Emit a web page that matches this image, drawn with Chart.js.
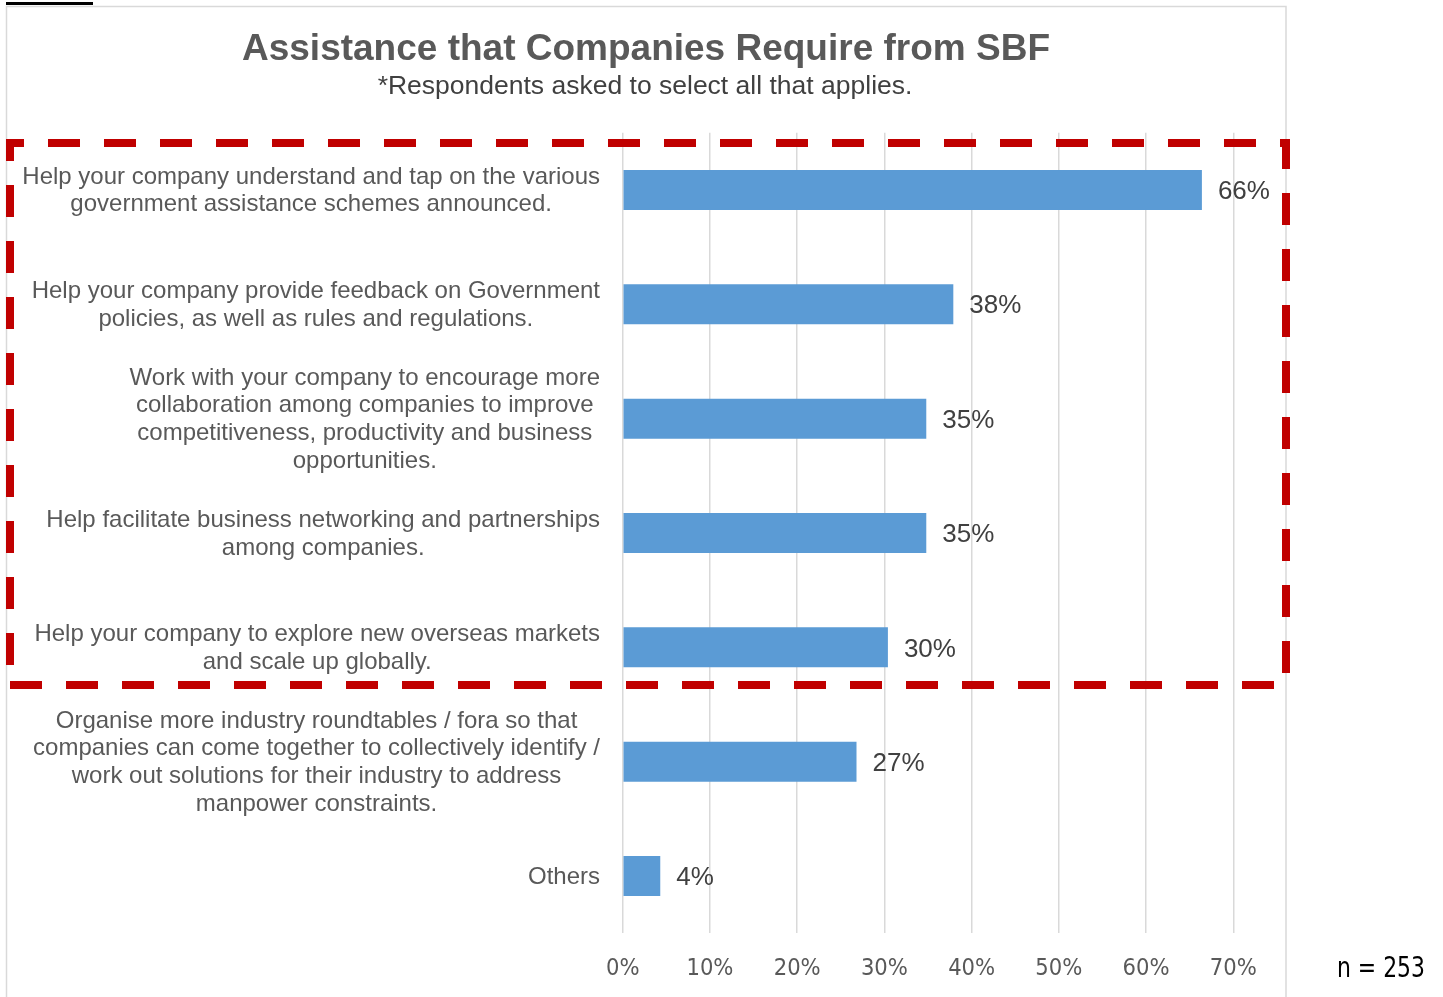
<!DOCTYPE html>
<html>
<head>
<meta charset="utf-8">
<title>Assistance that Companies Require from SBF</title>
<script src="https://cdn.jsdelivr.net/npm/chart.js@4.4.1/dist/chart.umd.min.js"></script>
<style>
  html, body { margin: 0; padding: 0; background: #ffffff; }
  #wrap { width: 1443px; height: 997px; }
</style>
</head>
<body>
<div id="wrap"><canvas id="sbfChart" width="1443" height="997"></canvas></div>
<script>
// Categories (multi-line, as in the original)
const categories = [
    ['Help your company understand and tap on the various', 'government assistance schemes announced.'],
    ['Help your company provide feedback on Government', 'policies, as well as rules and regulations.'],
    ['Work with your company to encourage more', 'collaboration among companies to improve', 'competitiveness, productivity and business', 'opportunities.'],
    ['Help facilitate business networking and partnerships', 'among companies.'],
    ['Help your company to explore new overseas markets', 'and scale up globally.'],
    ['Organise more industry roundtables / fora so that', 'companies can come together to collectively identify /', 'work out solutions for their industry to address', 'manpower constraints.'],
    ['Others']
];

// Share of respondents (%)
const values = [66.4, 37.9, 34.8, 34.8, 30.4, 26.8, 4.3];
const valueLabels = ['66%', '38%', '35%', '35%', '30%', '27%', '4%'];

// X axis ticks
const xTicks = [0, 10, 20, 30, 40, 50, 60, 70];

const titleText = 'Assistance that Companies Require from SBF';
const subtitleText = '*Respondents asked to select all that applies.';
const sampleText = 'n = 253';

const colors = {
    bar: '#5B9BD5',
    grid: '#D9D9D9',
    label: '#595959',
    dark: '#404040',
    box: '#C00000'
};
const mainFont = '"Liberation Sans", Arial, sans-serif';
const narrowFont = '"Liberation Sans Narrow", "DejaVu Sans Condensed", "Liberation Sans", sans-serif';

// Decorations: frame, title, category labels, value labels, dashed box
const decorPlugin = {
    id: 'decor',
    beforeDraw(chart) {
        const ctx = chart.ctx;
        ctx.save();
        ctx.fillStyle = '#ffffff';
        ctx.fillRect(0, 0, chart.width, chart.height);
        // chart frame
        ctx.strokeStyle = colors.grid;
        ctx.lineWidth = 1.5;
        ctx.strokeRect(6.5, 6.5, 1279.5, 1000);
        // underline of the cut-off caption above
        ctx.fillStyle = '#000000';
        ctx.fillRect(6, 2, 87, 3);
        ctx.restore();
    },
    afterDraw(chart) {
        const ctx = chart.ctx;
        const yScale = chart.scales.y;
        ctx.save();

        // title + subtitle
        ctx.textAlign = 'center';
        ctx.textBaseline = 'middle';
        ctx.fillStyle = colors.label;
        ctx.font = 'bold 37px ' + mainFont;
        ctx.fillText(titleText, 646, 50);
        ctx.fillStyle = colors.dark;
        ctx.font = '26.5px ' + mainFont;
        ctx.fillText(subtitleText, 645, 87);

        // category labels: block right-aligned, lines centred inside the block
        ctx.font = '24px ' + mainFont;
        ctx.fillStyle = colors.label;
        const lineH = 27.8;
        categories.forEach(function(lines, i) {
            const cy = yScale.getPixelForTick(i) + 1;
            const maxW = Math.max.apply(null, lines.map(l => ctx.measureText(l).width));
            const cx = 600 - maxW / 2;
            const top = cy - (lines.length - 1) * lineH / 2;
            lines.forEach(function(line, j) {
                ctx.fillText(line, cx, top + j * lineH);
            });
        });

        // value labels
        const meta = chart.getDatasetMeta(0);
        ctx.textAlign = 'left';
        ctx.fillStyle = colors.dark;
        ctx.font = '26px ' + mainFont;
        meta.data.forEach(function(bar, i) {
            ctx.fillText(valueLabels[i], bar.x + 16, bar.y + 2);
        });

        // sample size (condensed, like the original)
        ctx.fillStyle = '#000000';
        ctx.font = '28px ' + narrowFont;
        const sw = ctx.measureText(sampleText).width;
        ctx.save();
        ctx.translate(1337, 970);
        ctx.scale(88 / sw, 1);
        ctx.fillText(sampleText, 0, 0);
        ctx.restore();

        // red dashed highlight box
        ctx.strokeStyle = colors.box;
        ctx.lineWidth = 8;
        ctx.lineCap = 'butt';
        ctx.setLineDash([32, 24]);
        const side = function(x1, y1, x2, y2, offset) {
            ctx.lineDashOffset = offset;
            ctx.beginPath();
            ctx.moveTo(x1, y1);
            ctx.lineTo(x2, y2);
            ctx.stroke();
        };
        side(6, 143, 1290, 143, 14);
        side(1286, 139, 1286, 685, 2);
        side(1286, 685, 6, 685, 44);
        side(10, 685, 10, 143, 36);
        ctx.restore();
    }
};

new Chart(document.getElementById('sbfChart'), {
    type: 'bar',
    data: {
        labels: categories,
        datasets: [{
            data: values,
            backgroundColor: colors.bar,
            borderWidth: 0,
            barPercentage: 0.35,
            categoryPercentage: 1.0
        }]
    },
    options: {
        indexAxis: 'y',
        responsive: false,
        animation: false,
        layout: {
            padding: { left: 0, right: 209.7, top: 132.8, bottom: 0 }
        },
        plugins: {
            legend: { display: false },
            tooltip: { enabled: false },
            title: { display: false }
        },
        scales: {
            x: {
                position: 'bottom',
                min: xTicks[0],
                max: xTicks[xTicks.length - 1],
                afterBuildTicks: function(scale) {
                    scale.ticks = xTicks.map(v => ({ value: v }));
                },
                afterFit: function(scale) { scale.height = 63.8; },
                ticks: {
                    color: colors.label,
                    font: { family: narrowFont, size: 23.5 },
                    padding: 22,
                    maxRotation: 0,
                    callback: function(value) { return value + '%'; }
                },
                grid: { color: colors.grid, lineWidth: 1.5, drawTicks: false },
                border: { display: false }
            },
            y: {
                afterFit: function(scale) { scale.width = 622.75; },
                ticks: { display: false },
                grid: { display: false, drawTicks: false },
                border: { display: false }
            }
        }
    },
    plugins: [decorPlugin]
});
</script>
</body>
</html>
